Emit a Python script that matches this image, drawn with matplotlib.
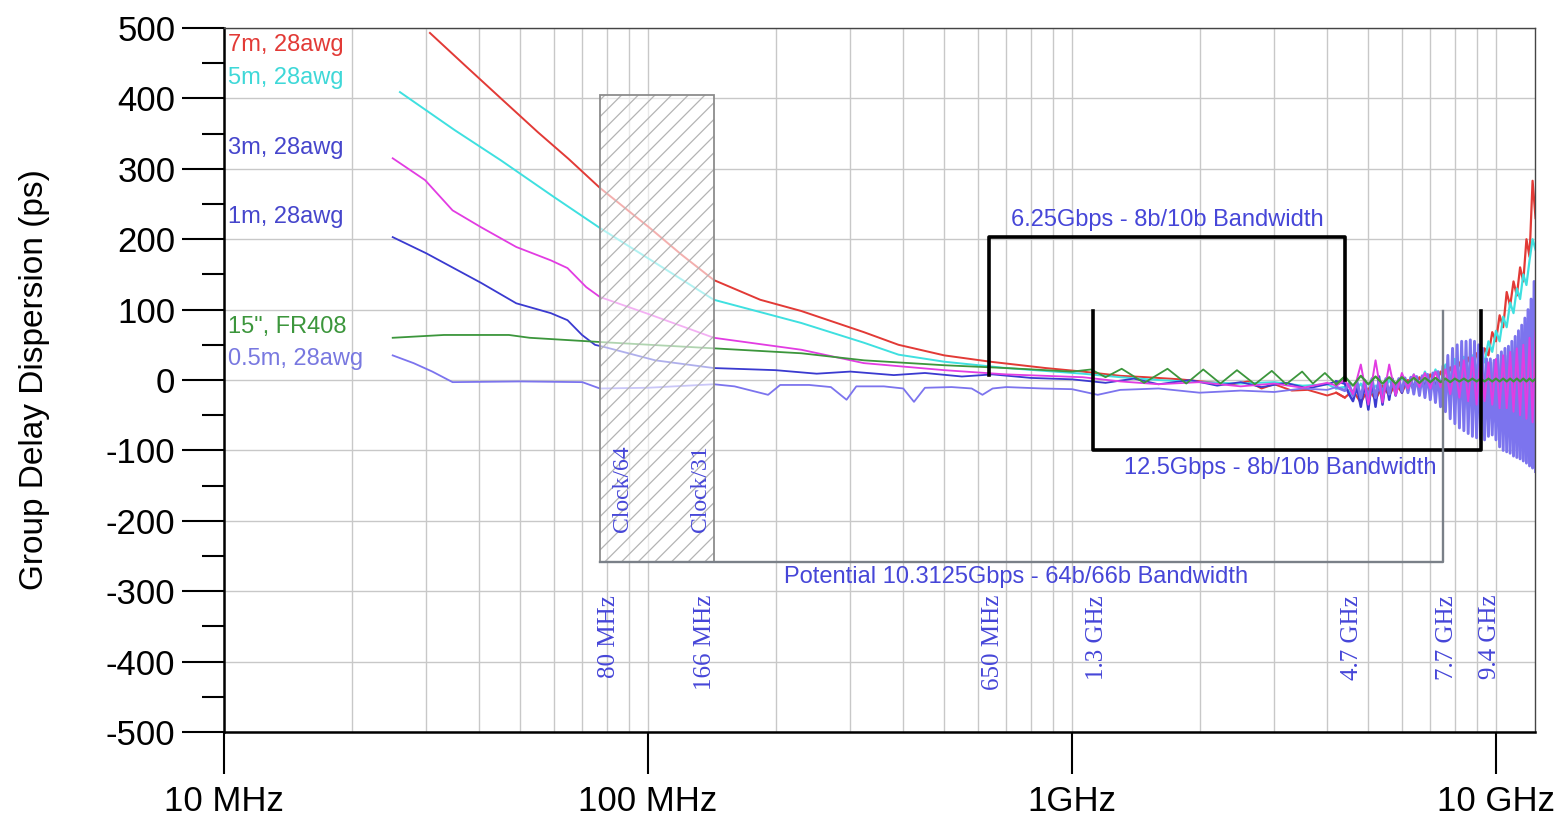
import numpy as np
import matplotlib
matplotlib.use("Agg")
from matplotlib import pyplot as plt
from matplotlib.patches import Rectangle
from matplotlib.ticker import FixedLocator, MultipleLocator, LogLocator, NullFormatter

plt.rcParams['font.family'] = ['Liberation Sans', 'DejaVu Sans']
plt.rcParams['axes.unicode_minus'] = False
plt.rcParams['hatch.linewidth'] = 0.9

# coarse sweep points above 4.4 GHz (GHz)
f_hf = [4.4, 4.6, 4.8, 5.0, 5.2, 5.4, 5.6, 5.8, 6.0, 6.2, 6.4, 6.6, 6.8, 7.0,
        7.2, 7.4, 7.6, 7.8, 8.0, 8.2, 8.4, 8.6, 8.8, 9.0, 9.2, 9.4, 9.6, 9.8,
        10.0, 10.2, 10.4, 10.6, 10.8, 11.0, 11.2, 11.4, 11.6, 11.8, 12.0, 12.2, 12.4]
# fine sweep points above 4.4 GHz for the two noisiest traces (GHz)
f_hf_fine = [4.4, 4.5, 4.6, 4.7, 4.8, 4.9, 5.0, 5.1, 5.2, 5.3, 5.4, 5.5, 5.6, 5.7, 5.8, 5.9,
             6.0, 6.1, 6.2, 6.3, 6.4, 6.5, 6.6, 6.7, 6.8, 6.9, 7.0, 7.1, 7.2, 7.3, 7.4,
             7.5, 7.6, 7.7, 7.8, 7.9, 8.0, 8.1, 8.2, 8.3, 8.4, 8.5, 8.6, 8.7, 8.8, 8.9,
             9.0, 9.1, 9.2, 9.3, 9.4, 9.5, 9.6, 9.7, 9.8, 9.9, 10.0, 10.1, 10.2, 10.3,
             10.4, 10.5, 10.6, 10.7, 10.8, 10.9, 11.0, 11.1, 11.2, 11.3, 11.4, 11.5,
             11.6, 11.7, 11.8, 11.9, 12.0, 12.1, 12.2, 12.3, 12.4]

# 7m, 28awg  (MHz, ps)
f_7m = [30.6, 37, 45, 55, 65, 77, 101, 120, 143, 184, 230, 323, 390, 500, 642, 867,
        1060, 1300, 1500, 1800, 2100, 2400, 2600, 2800, 3000, 3300, 3600, 4000, 4200]
v_7m = [493, 447, 400, 352, 314, 273, 216, 178, 142, 114, 98, 68, 50, 35, 26, 17,
        12, 6, 4, 1, -3, -6, -2, -12, -6, -15, -14, -22, -18]
hf_7m = [-25, -15, -32, -12, -28, -8, -22, -5, -18, 0, -14, 4, -10, 8, -8, 12, -4, 18, 2, 25,
         8, 32, 15, 38, 22, 45, 35, 68, 55, 92, 75, 125, 105, 140, 120, 160, 140, 200, 175, 283, 230]

# 5m, 28awg
f_5m = [26, 35, 45, 60, 77, 100, 143, 230, 323, 390, 500, 700, 1060, 1300, 1600, 2000,
        2500, 3000, 3500, 4000, 4200]
v_5m = [409, 355, 312, 260, 216, 173, 114, 81, 53, 36, 26, 17, 9, 4, 0, -3,
        -5, -3, -8, -6, -12]
hf_5m = [-10, -22, -5, -25, -8, -18, 0, -15, 5, -12, 8, -10, 12, -8, 15, -5, 22, 0, 30, 5,
         33, 10, 35, 15, 40, 25, 55, 40, 70, 55, 90, 75, 110, 95, 130, 115, 150, 135, 170, 200, 185]

# 3m, 28awg
f_3m = [25, 29.8, 34.6, 40.4, 48.9, 59, 64.6, 71.5, 77, 100, 143, 230, 323, 500, 700,
        1060, 1300, 1600, 2000, 2500, 3000, 3500, 4000, 4200]
v_3m = [315, 284, 241, 217, 189, 170, 159, 132, 118, 94, 60, 43, 24, 14, 8,
        4, -2, -6, -3, -9, -5, -11, -4, -8]
hf_3m = [0, -20, 22, -35, 28, -32, 22, -22, 10, -12, 8, -10, 10, -12, 12, -10, 15, -20, 20, -25,
         28, -30, 32, -35, 35, -30, 25, -35, 30, -40, 35, -40, 40, -45, 45, -50, 50, -55, 60, -60, 70]

# 1m, 28awg
f_1m = [25, 30, 40.4, 48.9, 59, 64.6, 69.9, 75, 80, 104, 143, 200, 250, 300, 380, 450,
        550, 650, 800, 1000, 1200, 1400, 1600, 1900, 2200, 2500, 2800, 3200, 3600, 4000, 4200]
v_1m = [203, 180, 138, 109, 95, 85, 64, 50, 46, 28, 17, 14, 9, 12, 7, 10,
        5, 8, 3, 1, -4, 2, -6, 0, -8, -3, -10, -4, -12, -6, -2]
hf_1m = [-5, -20, -30, -10, -38, -5, -42, 0, -38, 5, -35, 0, -28, 2, -22, 0,
         -18, 2, -15, 3, -14, 4, -13, 5, -14, 6, -15, 8, -18, 10, -22,
         12, -28, 15, -32, 18, -35, 20, -38, 22, -40, 24, -42, 25, -44, 25,
         -45, 22, -40, 15, -20, 20, -50, 25, -55, 25, -60, 30, -62, 32,
         -65, 35, -68, 38, -70, 40, -72, 45, -75, 50, -78, 55,
         -80, 60, -82, 65, -85, 75, -88, 90, -90]

# 15", FR408
f_fr = [25, 33, 47, 52.6, 77, 143, 230, 323, 500, 700, 1000, 1110, 1200, 1310, 1480,
        1680, 1860, 2040, 2240, 2450, 2700, 2960, 3200, 3490, 3700, 3950, 4200]
v_fr = [60, 64, 64, 60, 54, 45, 38, 28, 21, 17, 12, 15, 4, 16, -4,
        16, -5, 15, -5, 14, -6, 13, -6, 12, -5, 10, -6]
hf_fr = [5, -8, 6, -6, 5, -5, 4, -5, 4, -4, 3, -4, 3, -3, 3, -3, 2, -3, 2, -2,
         2, -2, 2, -2, 2, -2, 2, -2, 2, -2, 2, -2, 2, -2, 2, -2, 2, -2, 2, -2, 2]

# 0.5m, 28awg
f_05m = [25, 28, 31, 34.6, 50, 70, 77, 100, 143, 160, 192, 205, 240, 270, 294, 310, 360,
         400, 424, 450, 520, 580, 615, 650, 700, 850, 1000, 1150, 1300, 1600, 2000, 2500,
         3000, 3500, 4000, 4200]
v_05m = [35, 24, 12, -3, -2, -3, -12, -11, -6, -9, -21, -7, -7, -10, -28, -9, -9,
         -12, -31, -11, -10, -12, -21, -12, -10, -12, -13, -21, -14, -12, -18, -15,
         -17, -12, -14, -10]
hf_05m = [-15, -5, -22, -2, -25, 0, -28, 2, -25, 0, -22, 2, -20, 0, -18, 2,
          -16, 3, -18, 4, -20, 5, -22, 6, -25, 8, -28, 10, -32, 12, -38,
          20, -45, 35, -55, 45, -62, 50, -68, 55, -72, 55, -76, 57, -80, 55,
          -82, 50, -84, 45, -85, 30, -80, 30, -78, 28, -85, 35, -95, 40,
          -100, 45, -102, 48, -104, 55, -108, 62, -110, 70, -112, 78,
          -115, 88, -118, 100, -122, 115, -125, 140, -130]

y_ticks = [500, 400, 300, 200, 100, 0, -100, -200, -300, -400, -500]
x_ticks = [1e7, 1e8, 1e9, 1e10]
x_tick_labels = ['10 MHz', '100 MHz', '1GHz', '10 GHz']

# clock / band edges (Hz) used by the boxes
clock_lo, clock_hi = 77.1e6, 143e6
band625_lo, band625_hi = 637e6, 4.4e9
band125_lo, band125_hi = 1.12e9, 9.22e9
band103_hi = 7.5e9


def trace(f_mhz, v, f_ghz, hf):
    f = np.concatenate([np.array(f_mhz) * 1e6, np.array(f_ghz) * 1e9])
    return f, np.concatenate([v, hf])


fig = plt.figure(figsize=(15.62, 8.17), dpi=100)
ax = fig.add_axes([0.1434, 0.104, 0.8393, 0.8617])
ax.set_xscale('log')
ax.set_xlim(1e7, 1.236e10)
ax.set_ylim(-500, 500)

# curves, back to front; the fine-swept noisy part gets a heavier pen
series = [
    (f_7m, v_7m, f_hf, hf_7m, '#e23a36', 1.4, 1.6),
    (f_5m, v_5m, f_hf, hf_5m, '#3fe0e0', 1.4, 1.6),
    (f_1m, v_1m, f_hf_fine, hf_1m, '#3a3ad0', 1.3, 1.8),
    (f_05m, v_05m, f_hf_fine, hf_05m, '#7c74ee', 1.3, 2.1),
    (f_3m, v_3m, f_hf, hf_3m, '#e23ce2', 1.3, 1.4),
    (f_fr, v_fr, f_hf, hf_fr, '#3c963c', 1.3, 1.6),
]
for f_mhz, v, f_ghz, hf, col, lw, lw_hf in series:
    f, vals = trace(f_mhz, v, f_ghz, hf)
    n = len(f_mhz)
    ax.plot(f[:n + 1], vals[:n + 1], color=col, lw=lw, zorder=2)
    ax.plot(f[n - 1:], vals[n - 1:], color=col, lw=lw_hf, zorder=2)

# hatched clock box, drawn over the curves so they show faded
ax.add_patch(Rectangle((clock_lo, -258), clock_hi - clock_lo, 663, facecolor='white',
                       alpha=0.6, edgecolor='none', zorder=3))
ax.add_patch(Rectangle((clock_lo, -258), clock_hi - clock_lo, 663, fill=False, hatch='//',
                       edgecolor='#b4b4b4', lw=0, zorder=3.1))
ax.add_patch(Rectangle((clock_lo, -258), clock_hi - clock_lo, 663, fill=False,
                       edgecolor='#8c8c8c', lw=1.3, zorder=3.2))

# bandwidth brackets
ax.plot([band625_lo, band625_lo, band625_hi, band625_hi], [7, 203, 203, 0], color='k', lw=2.6, zorder=5)
ax.plot([band125_lo, band125_lo, band125_hi, band125_hi], [98, -100, -100, 98], color='k', lw=2.6, zorder=5)
ax.plot([clock_lo, band103_hi, band103_hi], [-258, -258, 98], color='#7a8088', lw=1.7, zorder=5)

blue_txt = '#4646d8'
ax.text(1.68e9, 227, '6.25Gbps - 8b/10b Bandwidth', color=blue_txt, fontsize=17, ha='center', va='center', zorder=6)
ax.text(3.1e9, -125, '12.5Gbps - 8b/10b Bandwidth', color=blue_txt, fontsize=17, ha='center', va='center', zorder=6)
ax.text(7.38e8, -280, 'Potential 10.3125Gbps - 64b/66b Bandwidth', color=blue_txt, fontsize=17,
        ha='center', va='center', zorder=6)

serif = ['Liberation Serif', 'DejaVu Serif']
ax.text(8.69e7, -155, 'Clock/64', family=serif, color=blue_txt, fontsize=17, rotation=90,
        ha='center', va='center', zorder=6)
ax.text(1.33e8, -155, 'Clock/31', family=serif, color=blue_txt, fontsize=17, rotation=90,
        ha='center', va='center', zorder=6)
for fx, lab in [(8.1e7, '80 MHz'), (1.36e8, '166 MHz'), (6.51e8, '650 MHz'), (1.146e9, '1.3 GHz'),
                (4.57e9, '4.7 GHz'), (7.66e9, '7.7 GHz'), (9.68e9, '9.4 GHz')]:
    ax.text(fx, -305, lab, family=serif, color=blue_txt, fontsize=18, rotation=90,
            ha='center', va='top', zorder=6)

# trace names
for yv, lab, col in [(476, '7m, 28awg', '#e23a36'), (429, '5m, 28awg', '#3fd8d8'),
                     (330, '3m, 28awg', '#4646cc'), (232, '1m, 28awg', '#4646cc'),
                     (75, '15", FR408', '#3c963c'), (30, '0.5m, 28awg', '#7878e0')]:
    ax.text(1.02e7, yv, lab, color=col, fontsize=17, ha='left', va='center', zorder=6)

# axes and grid
ax.xaxis.set_major_locator(FixedLocator(x_ticks))
ax.set_xticklabels(x_tick_labels)
ax.xaxis.set_minor_locator(LogLocator(base=10, subs=np.arange(2, 10)))
ax.xaxis.set_minor_formatter(NullFormatter())
ax.yaxis.set_major_locator(FixedLocator(y_ticks))
ax.yaxis.set_minor_locator(MultipleLocator(50))
ax.set_axisbelow(True)
ax.grid(True, which='both', axis='x', color='#c8c8c8', lw=1.0)
ax.grid(True, which='major', axis='y', color='#c8c8c8', lw=1.0)

ax.tick_params(axis='both', which='major', direction='out', length=30, width=1.5,
               labelsize=25, colors='black')
ax.tick_params(axis='y', which='major', pad=5)
ax.tick_params(axis='x', which='major', pad=8)
ax.tick_params(axis='y', which='minor', direction='out', length=16, width=1.5)
ax.tick_params(axis='x', which='minor', length=0)

for s in ['left', 'bottom']:
    ax.spines[s].set_color('black')
    ax.spines[s].set_linewidth(1.8)
for s in ['top', 'right']:
    ax.spines[s].set_color('#454545')
    ax.spines[s].set_linewidth(1.0)

ax.set_ylabel('Group Delay Dispersion (ps)', fontsize=24)
ax.yaxis.set_label_coords(-0.133, 0.5)

fig.savefig('out.png', dpi=100, facecolor='white')
